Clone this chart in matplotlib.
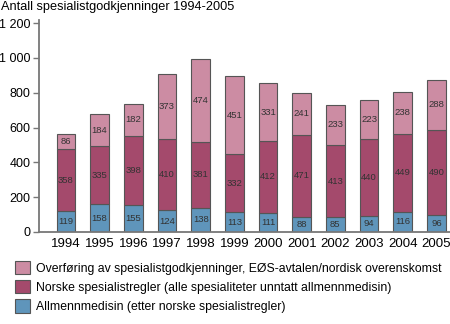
import matplotlib
matplotlib.use('Agg')
import matplotlib.pyplot as plt
import numpy as np
from matplotlib.patches import Patch

plt.rcParams['font.family'] = ['Liberation Sans', 'DejaVu Sans']

years = ['1994', '1995', '1996', '1997', '1998', '1999', '2000', '2001', '2002', '2003', '2004', '2005']
allmenn = [119, 158, 155, 124, 138, 113, 111, 88, 85, 94, 116, 96]
norske = [358, 335, 398, 410, 381, 332, 412, 471, 413, 440, 449, 490]
overforing = [86, 184, 182, 373, 474, 451, 331, 241, 233, 223, 238, 288]

labels = ['Overføring av spesialistgodkjenninger, EØS-avtalen/nordisk overenskomst',
          'Norske spesialistregler (alle spesialiteter unntatt allmennmedisin)',
          'Allmennmedisin (etter norske spesialistregler)']
colors = ['#cc8ca3', '#a44a6c', '#5f95bb']
edge = '#555555'

fig = plt.figure(figsize=(4.5, 3.24), dpi=100)
ax = fig.add_axes([0.0867, 0.284, 0.913, 0.653])

x = np.arange(len(years))
w = 0.55
b1 = ax.bar(x, allmenn, w, color=colors[2], edgecolor=edge, linewidth=0.8)
b2 = ax.bar(x, norske, w, bottom=allmenn, color=colors[1], edgecolor=edge, linewidth=0.8)
bot3 = np.array(allmenn) + np.array(norske)
b3 = ax.bar(x, overforing, w, bottom=bot3, color=colors[0], edgecolor=edge, linewidth=0.8)

for bars in (b1, b2, b3):
    ax.bar_label(bars, label_type='center', fontsize=6.8, color='#333333')

ax.set_xlim(-0.8, 11.4)
ax.set_ylim(0, 1215)
ax.set_yticks([0, 200, 400, 600, 800, 1000, 1200])
ax.set_yticklabels(['0', '200', '400', '600', '800', '1 000', '1 200'])
ax.set_xticks(x)
ax.set_xticklabels(years, fontsize=9.5)
ax.tick_params(axis='x', length=0, pad=4)
ax.tick_params(axis='y', length=4, width=1, color='#777777', labelsize=9, pad=2)
for s in ['top', 'right']:
    ax.spines[s].set_visible(False)
for s in ['left', 'bottom']:
    ax.spines[s].set_color('#777777')
    ax.spines[s].set_linewidth(1.3)

fig.text(0.003, 0.998, 'Antall spesialistgodkjenninger 1994-2005', fontsize=9.2, va='top', ha='left')

handles = [Patch(facecolor=c, edgecolor=edge, linewidth=0.8) for c in colors]
fig.legend(handles, labels, loc='upper left', bbox_to_anchor=(0.033, 0.195), frameon=False,
           fontsize=8.8, handlelength=1.2, handleheight=1.3, handletextpad=0.5, labelspacing=0.45,
           borderaxespad=0, borderpad=0)

fig.savefig('out.png', dpi=100)
